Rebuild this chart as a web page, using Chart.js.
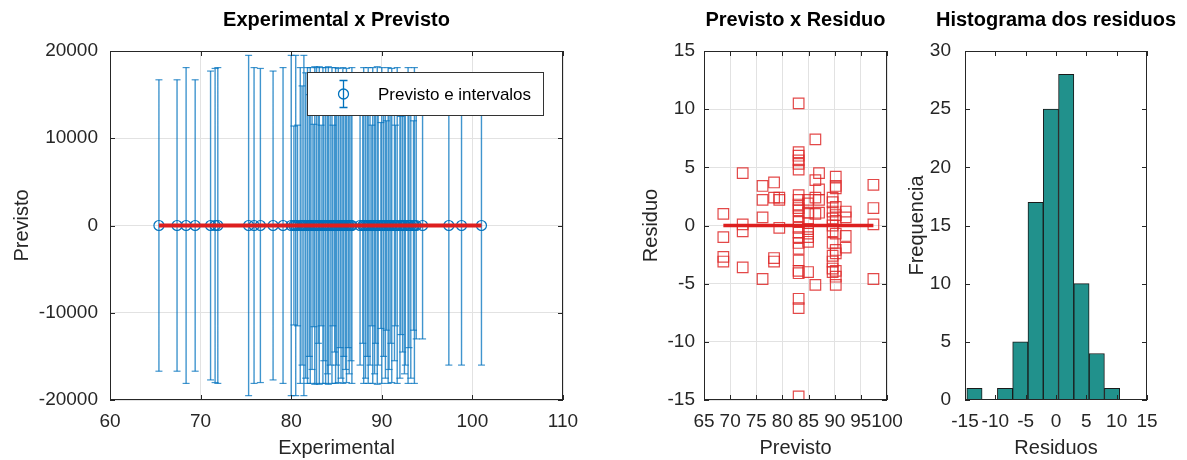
<!DOCTYPE html>
<html lang="pt">
<head>
<meta charset="UTF-8">
<title>Experimental x Previsto / Residuos</title>
<script src="https://cdn.jsdelivr.net/npm/chart.js"></script>
<style>
  html, body { margin: 0; padding: 0; background: #fff; overflow: hidden; }
  body { width: 1187px; height: 460px; position: relative; }
  canvas { position: absolute; top: 0; }
  #expChart { left: 0; }
  #resChart { left: 600px; }
  #histChart { left: 880px; }
</style>
</head>
<body>
<canvas id="expChart" width="673" height="460"></canvas>
<canvas id="resChart" width="391" height="460"></canvas>
<canvas id="histChart" width="352" height="460"></canvas>
<script>
// --- dados ---
const experimental = [
  65.4, 67.4, 68.4, 69.4, 71.1, 71.6, 71.9, 75.3, 75.9, 76.6,
  78.0, 79.1, 80.0, 80.3, 80.5, 80.7, 81.0, 81.2, 81.4, 81.6,
  81.8, 82.0, 82.1, 82.3, 82.5, 82.6, 82.8, 83.0, 83.1, 83.3,
  83.5, 83.6, 83.8, 84.0, 84.1, 84.3, 84.5, 84.6, 84.8, 84.9,
  85.0, 85.2, 85.4, 85.5, 85.7, 85.8, 86.0, 86.1, 86.3, 86.4,
  86.6, 86.7, 87.6, 87.9, 88.0, 88.2, 88.4, 88.5, 88.7, 88.9,
  89.0, 89.2, 89.3, 89.5, 89.6, 89.9, 90.0, 90.2, 90.4, 90.5,
  90.7, 90.8, 91.0, 91.1, 91.4, 91.5, 91.7, 92.0, 92.1, 92.3,
  92.5, 92.6, 92.9, 93.0, 93.2, 93.5, 93.6, 93.8, 94.5, 97.4,
  98.8, 101.0
];
const previstoExp = [
  0, 0, 0, 0, 0, 0, 0, 0, 0, 0,
  0, 0, 0, 0, 0, 0, 0, 0, 0, 0,
  0, 0, 0, 0, 0, 0, 0, 0, 0, 0,
  0, 0, 0, 0, 0, 0, 0, 0, 0, 0,
  0, 0, 0, 0, 0, 0, 0, 0, 0, 0,
  0, 0, 0, 0, 0, 0, 0, 0, 0, 0,
  0, 0, 0, 0, 0, 0, 0, 0, 0, 0,
  0, 0, 0, 0, 0, 0, 0, 0, 0, 0,
  0, 0, 0, 0, 0, 0, 0, 0, 0, 0,
  0, 0
];
// meia largura do intervalo de previsao
const meiaLargura = [
  16700, 16700, 18100, 16700, 17700, 18000, 18100, 19500, 18100, 18000,
  17700, 18100, 19500, 11400, 19500, 11500, 18100, 16000, 19500, 17500,
  18100, 15000, 18100, 16500, 11600, 18200, 18100, 13500, 18200, 11500,
  18100, 15500, 18100, 17000, 18200, 16000, 18100, 11500, 14500, 18100,
  16000, 18000, 14000, 17500, 18100, 15000, 16500, 18000, 14000, 17000,
  15500, 18100, 16000, 13500, 18100, 17500, 15000, 18100, 16000, 11500,
  18100, 17000, 13500, 18200, 16000, 11800, 18100, 15000, 17500, 12000,
  18100, 16500, 13500, 18000, 15500, 11500, 18100, 17500, 12500, 14500,
  17000, 16000, 18100, 14000, 17500, 12000, 18100, 13000, 13000, 16000,
  16000, 16000
];
const linhaExpX = [65.4, 101.0];
const linhaExpY = [0, 0];

const previstoRes = [
  68.7, 68.7, 68.7, 68.7,
  72.4, 72.4, 72.4, 72.4,
  76.2, 76.2, 76.2, 76.2,
  78.4, 78.4, 78.4, 78.4,
  79.4, 79.4, 79.4,
  83.1, 83.1, 83.1, 83.1, 83.1, 83.1, 83.1, 83.1, 83.1, 83.1, 83.1, 83.1,
  83.1, 83.1, 83.1, 83.1, 83.1, 83.1, 83.1, 83.1, 83.1, 83.1, 83.1, 83.1,
  84.9, 84.9, 84.9, 84.9, 84.9, 84.9, 84.9, 84.9, 84.9,
  86.3, 86.3, 86.3, 86.3, 86.3,
  87.0, 87.0, 87.0, 87.0,
  89.6, 89.6, 89.6, 89.6, 89.6, 89.6, 89.6, 89.6, 89.6, 89.6, 89.6,
  90.2, 90.2, 90.2, 90.2, 90.2, 90.2, 90.2, 90.2, 90.2, 90.2, 90.2, 90.2,
  92.1, 92.1, 92.1, 92.1,
  97.4, 97.4, 97.4, 97.4
];
const residuo = [
  1.0, -1.0, -2.7, -3.1,
  4.5, 0.1, -0.5, -3.6,
  3.4, 2.2, 0.7, -4.6,
  3.7, 2.4, -2.8, -3.1,
  2.4, 2.2, -0.2,
  10.5, 6.3, 6.0, 5.6, 5.3, 4.8, 2.6, 2.2, 1.8, 1.5, 1.3, 0.8,
  0.3, -0.2, -0.6, -1.0, -1.5, -2.0, -3.0, -3.9, -4.1, -6.3, -7.1, -14.7,
  2.2, 1.9, 1.1, 0.2, -0.3, -0.7, -1.0, -1.4, -4.0,
  7.4, 3.9, 2.4, 1.0, -5.1,
  4.5, 3.1, 2.2, 1.1,
  2.4, 2.0, 1.2, 0.6, 0.0, -0.5, -1.5, -2.6, -3.1, -3.7, -4.0,
  4.2, 3.4, 3.2, 1.6, 0.9, 0.4, -0.7, -2.1, -2.4, -3.9, -4.4, -5.1,
  1.2, 0.7, -0.9, -1.9,
  3.5, 1.5, 0.1, -4.6
];
const linhaResX = [68.7, 97.4];
const linhaResY = [0, 0];

const centrosBins = [-13.44, -10.92, -8.40, -5.88, -3.36, -0.84, 1.68, 4.20, 6.72, 9.24];
const frequencia = [1, 0, 1, 5, 17, 25, 28, 10, 4, 1];

// --- estilo ---
const FONTE = "'Liberation Sans', Arial, Helvetica, sans-serif";
const COR_EIXO = '#262626';
const COR_GRADE = '#e2e2e2';
const COR_AZUL = '#0072BD';
const COR_VERMELHO = '#dd1f1f';
Chart.defaults.font.family = FONTE;
Chart.defaults.color = COR_EIXO;

function eixoX(min, max, passo, titulo, grade) {
  return {
    type: 'linear', position: 'bottom', min: min, max: max, offset: false,
    ticks: { stepSize: passo, autoSkip: false, maxRotation: 0, minRotation: 0, padding: 10,
             font: { size: 19 }, color: COR_EIXO, callback: v => String(v) },
    grid: { display: grade, color: COR_GRADE, drawTicks: false },
    border: { display: false },
    title: { display: true, text: titulo, font: { size: 20 }, color: COR_EIXO, padding: { top: 0, bottom: 0 } },
    afterFit: s => { s.height = 60; }
  };
}

function eixoY(min, max, passo, titulo, grade, largura, padTitulo, padTicks) {
  return {
    type: 'linear', position: 'left', min: min, max: max,
    ticks: { stepSize: passo, autoSkip: false, padding: padTicks,
             font: { size: 19 }, color: COR_EIXO, callback: v => String(v) },
    grid: { display: grade, color: COR_GRADE, drawTicks: false },
    border: { display: false },
    title: { display: true, text: titulo, font: { size: 20 }, color: COR_EIXO, padding: { top: padTitulo, bottom: 0 } },
    afterFit: s => { s.width = largura; }
  };
}

// eixo vazio a direita, so para centrar o titulo sobre a area do grafico
function eixoVazio(largura) {
  return {
    type: 'linear', position: 'right', display: true,
    ticks: { display: false }, grid: { display: false, drawTicks: false },
    border: { display: false }, title: { display: false },
    afterFit: s => { s.width = largura; }
  };
}

function titulo(texto) {
  return { display: true, text: texto, color: '#000',
           font: { size: 20, weight: 'bold' }, padding: { top: 8, bottom: 19 } };
}

// moldura e marcas para dentro (estilo Octave)
const moldura = {
  id: 'moldura',
  afterDatasetsDraw(chart) {
    const { ctx, chartArea: a } = chart;
    const sx = chart.scales.x, sy = chart.scales.y;
    const t = 5;
    ctx.save();
    ctx.strokeStyle = COR_EIXO;
    ctx.lineWidth = 1;
    ctx.beginPath();
    sx.ticks.forEach(tk => {
      const p = Math.round(sx.getPixelForValue(tk.value)) + 0.5;
      ctx.moveTo(p, a.bottom); ctx.lineTo(p, a.bottom - t);
      ctx.moveTo(p, a.top); ctx.lineTo(p, a.top + t);
    });
    sy.ticks.forEach(tk => {
      const p = Math.round(sy.getPixelForValue(tk.value)) + 0.5;
      ctx.moveTo(a.left, p); ctx.lineTo(a.left + t, p);
      ctx.moveTo(a.right, p); ctx.lineTo(a.right - t, p);
    });
    ctx.stroke();
    ctx.strokeRect(Math.round(a.left) + 0.5, Math.round(a.top) + 0.5,
                   Math.round(a.width) - 1, Math.round(a.height) - 1);
    ctx.restore();
  }
};

// legenda dentro do grafico, com caixa branca por cima das barras
const legendaInterna = {
  id: 'legendaInterna',
  afterDatasetsDraw(chart) {
    const { ctx, chartArea: a } = chart;
    const bx = Math.round(a.left) + 197, by = Math.round(a.top) + 21, bw = 236, bh = 43;
    ctx.save();
    ctx.fillStyle = '#fff';
    ctx.fillRect(bx, by, bw, bh);
    ctx.strokeStyle = '#333';
    ctx.lineWidth = 1;
    ctx.strokeRect(bx + 0.5, by + 0.5, bw, bh);
    const cx = bx + 36.5, cy = by + 22;
    ctx.strokeStyle = COR_AZUL;
    ctx.lineWidth = 1.3;
    ctx.beginPath();
    ctx.moveTo(cx, cy - 13); ctx.lineTo(cx, cy + 13);
    ctx.moveTo(cx - 4, cy - 13.5); ctx.lineTo(cx + 4, cy - 13.5);
    ctx.moveTo(cx - 4, cy + 13.5); ctx.lineTo(cx + 4, cy + 13.5);
    ctx.stroke();
    ctx.beginPath();
    ctx.arc(cx, cy, 5, 0, Math.PI * 2);
    ctx.stroke();
    ctx.fillStyle = '#000';
    ctx.font = '17px ' + FONTE;
    ctx.textBaseline = 'middle';
    ctx.fillText(chart.data.datasets[1].label, bx + 71, cy + 1);
    ctx.restore();
  }
};

// --- grafico 1: Experimental x Previsto ---
const barras = [];
experimental.forEach((x, i) => {
  barras.push({ x: x, y: previstoExp[i] - meiaLargura[i] });
  barras.push({ x: x, y: previstoExp[i] + meiaLargura[i] });
  barras.push({ x: x, y: null });
});

new Chart(document.getElementById('expChart'), {
  type: 'scatter',
  data: {
    datasets: [
      {
        type: 'line', label: 'ajuste',
        data: linhaExpX.map((x, i) => ({ x: x, y: linhaExpY[i] })),
        borderColor: COR_VERMELHO, borderWidth: 4, pointRadius: 0, order: 0
      },
      {
        label: 'Previsto e intervalos',
        data: experimental.map((x, i) => ({ x: x, y: previstoExp[i] })),
        pointStyle: 'circle', pointRadius: 5, borderColor: COR_AZUL,
        backgroundColor: 'rgba(0,0,0,0)', pointBorderWidth: 1.2, order: 1
      },
      {
        type: 'line', label: 'intervalos', data: barras,
        spanGaps: false, borderColor: 'rgba(0,114,189,0.75)', borderWidth: 1.4,
        pointStyle: 'line', pointRadius: 3.5, pointBorderWidth: 1.2, order: 2
      }
    ]
  },
  options: {
    responsive: false, animation: false, events: [],
    layout: { padding: 0 },
    plugins: { legend: { display: false }, tooltip: { enabled: false },
               title: titulo('Experimental x Previsto') },
    scales: {
      x: eixoX(60, 110, 10, 'Experimental', true),
      y: eixoY(-20000, 20000, 10000, 'Previsto', true, 110, 10, 12),
      direita: eixoVazio(110)
    }
  },
  plugins: [moldura, legendaInterna]
});

// --- grafico 2: Previsto x Residuo ---
new Chart(document.getElementById('resChart'), {
  type: 'scatter',
  data: {
    datasets: [
      {
        type: 'line', label: 'zero',
        data: linhaResX.map((x, i) => ({ x: x, y: linhaResY[i] })),
        borderColor: COR_VERMELHO, borderWidth: 3.5, pointRadius: 0, order: 0
      },
      {
        label: 'Residuo',
        data: previstoRes.map((x, i) => ({ x: x, y: residuo[i] })),
        pointStyle: 'rect', pointRadius: 7.5, borderColor: 'rgba(222,40,40,0.85)',
        backgroundColor: 'rgba(0,0,0,0)', pointBorderWidth: 1.2, order: 1
      }
    ]
  },
  options: {
    responsive: false, animation: false, events: [],
    layout: { padding: 0 },
    plugins: { legend: { display: false }, tooltip: { enabled: false },
               title: titulo('Previsto x Residuo') },
    scales: {
      x: eixoX(65, 100, 5, 'Previsto', true),
      y: eixoY(-15, 15, 5, 'Residuo', true, 104, 39, 9),
      direita: eixoVazio(104)
    }
  },
  plugins: [moldura]
});

// --- grafico 3: Histograma dos residuos ---
new Chart(document.getElementById('histChart'), {
  type: 'bar',
  data: {
    datasets: [{
      label: 'Frequencia', yAxisID: 'y',
      data: centrosBins.map((x, i) => ({ x: x, y: frequencia[i] })),
      backgroundColor: '#21918C', borderColor: '#1a1a1a', borderWidth: 1,
      borderSkipped: false, barPercentage: 1, categoryPercentage: 1
    }]
  },
  options: {
    responsive: false, animation: false, events: [],
    layout: { padding: 0 },
    plugins: { legend: { display: false }, tooltip: { enabled: false },
               title: titulo('Histograma dos residuos') },
    scales: {
      x: eixoX(-15, 15, 5, 'Residuos', false),
      y: eixoY(0, 30, 5, 'Frequencia', false, 85, 25, 14),
      direita: eixoVazio(85)
    }
  },
  plugins: [moldura]
});
</script>
</body>
</html>
